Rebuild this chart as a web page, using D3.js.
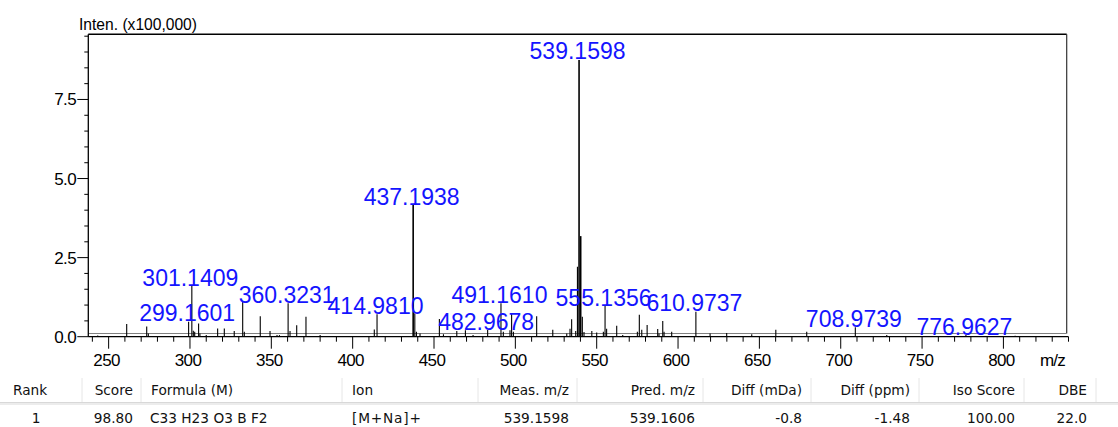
<!DOCTYPE html>
<html><head><meta charset="utf-8">
<script src="https://cdn.jsdelivr.net/npm/d3@7"></script>
<style>
html,body{margin:0;padding:0;background:#fff;}
svg{display:block;}
</style></head>
<body>
<svg id="c" width="1118" height="427"></svg>
<script>
// ---- data (intensity in units of 100,000) ----
const peakMz = [243.3,261.1,273.4,274.4,299.16,301.14,302.05,302.9,305.3,306.1,310.0,317.0,321.1,327.2,332.4,333.4,343.2,349.2,353.5,355.0,360.32,361.5,365.6,371.3,380.0,413.3,414.98,437.19,438.2,439.2,441.4,453.3,455.8,464.0,469.3,474.0,482.97,491.16,492.6,496.7,497.7,498.8,513.1,523.0,531.6,533.6,534.6,537.1,538.16,539.16,540.16,541.17,542.2,547.0,550.0,554.1,555.14,556.1,562.3,566.0,575.0,576.2,577.7,581.0,587.5,588.3,590.6,591.4,596.1,610.97,619.7,629.9,645.3,660.1,679.1,708.97,728.3,776.96,807.2];
const peakInt = [0.04,0.40,0.32,0.10,0.47,1.60,0.19,0.16,0.42,0.10,0.05,0.26,0.26,0.18,1.11,0.16,0.65,0.18,0.05,0.05,1.06,0.18,0.36,0.63,0.05,0.23,0.71,4.16,0.74,0.16,0.10,0.56,0.08,0.18,0.20,0.05,0.21,1.06,0.16,0.20,0.72,0.16,0.65,0.22,0.10,0.25,0.55,0.18,2.21,8.75,3.18,0.63,0.15,0.18,0.13,0.16,0.97,0.25,0.35,0.05,0.16,0.69,0.22,0.37,0.24,0.10,0.50,0.16,0.16,0.79,0.10,0.12,0.08,0.22,0.16,0.30,0.05,0.05,0.03];
const labelMz = [299.1601,301.1409,360.3231,414.9810,437.1938,482.9678,491.1610,539.1598,555.1356,610.9737,708.9739,776.9627];
const labelInt = [0.47,1.60,1.06,0.71,4.16,0.21,1.06,8.75,0.97,0.79,0.30,0.05];
const xTickVals = [250,300,350,400,450,500,550,600,650,700,750,800];
const yTickVals = [0,2.5,5.0,7.5];
const yTickLabels = ["0.0","2.5","5.0","7.5"];
const tableHeaders = ["Rank","Score","Formula (M)","Ion","Meas. m/z","Pred. m/z","Diff (mDa)","Diff (ppm)","Iso Score","DBE"];
const tableRow = ["1","98.80","C33 H23 O3 B F2","[M+Na]+","539.1598","539.1606","-0.8","-1.48","100.00","22.0"];

// ---- layout ----
const svg = d3.select("#c");
const L = 88.3, R = 1066.7, T = 34.3, B0 = 336.7;
const x = d3.scaleLinear().domain([237.5, 838.9]).range([L, R]);
const y = d3.scaleLinear().domain([0, 9.56]).range([B0, T]);
const axisFont = "'Liberation Sans', Arial, sans-serif";

// frame
svg.append("line").attr("x1",L).attr("x2",R).attr("y1",T).attr("y2",T).attr("stroke","#000").attr("stroke-width",1.5);
svg.append("line").attr("x1",R).attr("x2",R).attr("y1",T).attr("y2",333.5).attr("stroke","#333").attr("stroke-width",1.2);
svg.append("line").attr("x1",L).attr("x2",R).attr("y1",333.5).attr("y2",333.5).attr("stroke","#808080").attr("stroke-width",1.2);

// peaks
const peaks = peakMz.map((m,i)=>({m, v:peakInt[i]}));
svg.append("g").selectAll("line").data(peaks).join("line")
  .attr("x1",d=>x(d.m)).attr("x2",d=>x(d.m))
  .attr("y1",B0).attr("y2",d=>y(d.v))
  .attr("stroke","#000").attr("stroke-width",d=>d.v>3?1.6:1.1);

// x axis
const xMinor = d3.range(240, 841, 10).filter(v=>v%50!==0);
const xg = svg.append("g").attr("transform",`translate(0,${B0})`);
xg.append("line").attr("x1",L).attr("x2",x(840)).attr("y1",0).attr("y2",0).attr("stroke","#000").attr("stroke-width",1.3);
xg.selectAll(".mn").data(xMinor).join("line").attr("class","mn")
  .attr("x1",d=>x(d)).attr("x2",d=>x(d)).attr("y1",0).attr("y2",5).attr("stroke","#000").attr("stroke-width",1);
xg.selectAll(".mj").data(xTickVals).join("line").attr("class","mj")
  .attr("x1",d=>x(d)).attr("x2",d=>x(d)).attr("y1",0).attr("y2",12).attr("stroke","#000").attr("stroke-width",1);
xg.selectAll("text").data(xTickVals).join("text")
  .attr("x",d=>x(d)-2).attr("y",29.5).attr("text-anchor","middle")
  .attr("font-family",axisFont).attr("font-size",17).attr("letter-spacing",-0.6)
  .attr("fill","#000").text(d=>d);
svg.append("text").attr("x",1040).attr("y",366.2).attr("font-family",axisFont).attr("font-size",17)
  .attr("letter-spacing",-0.8).attr("fill","#000").text("m/z");

// y axis
const yg = svg.append("g");
yg.append("line").attr("x1",L).attr("x2",L).attr("y1",T).attr("y2",B0).attr("stroke","#000").attr("stroke-width",1.3);
const yMinor = d3.range(0.5, 9.56, 0.5).filter(v=>Math.abs(v/2.5-Math.round(v/2.5))>1e-6);
yg.selectAll(".mn").data(yMinor).join("line").attr("class","mn")
  .attr("x1",L-4).attr("x2",L).attr("y1",d=>y(d)).attr("y2",d=>y(d)).attr("stroke","#000").attr("stroke-width",1);
yg.selectAll(".mj").data(yTickVals).join("line").attr("class","mj")
  .attr("x1",L-11).attr("x2",L).attr("y1",d=>y(d)).attr("y2",d=>y(d)).attr("stroke","#000").attr("stroke-width",1);
yg.selectAll("text").data(yTickVals).join("text")
  .attr("x",76).attr("y",d=>y(d)+6).attr("text-anchor","end")
  .attr("font-family",axisFont).attr("font-size",17).attr("letter-spacing",-0.6)
  .attr("fill","#000").text((d,i)=>yTickLabels[i]);
svg.append("text").attr("x",79).attr("y",30).attr("font-family",axisFont).attr("font-size",16.5)
  .attr("textLength",118).attr("lengthAdjust","spacingAndGlyphs").attr("fill","#000").text("Inten. (x100,000)");

// peak labels
svg.append("g").selectAll("text").data(labelMz.map((m,i)=>({m,v:labelInt[i]}))).join("text")
  .attr("x",d=>x(d.m)-1.5).attr("y",d=>y(d.v)-0.5).attr("text-anchor","middle")
  .attr("font-family",axisFont).attr("font-size",23).attr("fill","#1414ff")
  .text(d=>d.m.toFixed(4));

// ---- table ----
const tf = "'DejaVu Sans', Tahoma, sans-serif";
const colX = [13,133,151,352,569,695,802,910,1015,1087];
const colAnchor = ["start","end","start","start","end","end","end","end","end","end"];
const dataX = [36,133,150,352,569,695,802,910,1015,1087];
const dataAnchor = ["middle","end","start","start","end","end","end","end","end","end"];
const seps = [82,141,342,478,577,703,811,919,1024,1096];
const tg = svg.append("g");
tg.selectAll(".sep").data(seps).join("line").attr("class","sep")
  .attr("x1",d=>d).attr("x2",d=>d).attr("y1",378).attr("y2",402).attr("stroke","#e6e6e6").attr("stroke-width",1);
tg.append("line").attr("x1",0).attr("x2",1118).attr("y1",402.5).attr("y2",402.5).attr("stroke","#d8d8d8").attr("stroke-width",1);
tg.append("line").attr("x1",0).attr("x2",1118).attr("y1",404).attr("y2",404).attr("stroke","#ececec").attr("stroke-width",2);
tg.selectAll(".hd").data(tableHeaders).join("text").attr("class","hd")
  .attr("x",(d,i)=>colX[i]).attr("y",394.5).attr("text-anchor",(d,i)=>colAnchor[i])
  .attr("font-family",tf).attr("font-size",13.7).attr("fill","#111").text(d=>d);
tg.selectAll(".dt").data(tableRow).join("text").attr("class","dt")
  .attr("x",(d,i)=>dataX[i]).attr("y",422.5).attr("text-anchor",(d,i)=>dataAnchor[i])
  .attr("font-family",tf).attr("font-size",13.7).attr("letter-spacing",(d,i)=>i===3?0.8:0).attr("fill","#111").text(d=>d);
</script>
</body></html>
